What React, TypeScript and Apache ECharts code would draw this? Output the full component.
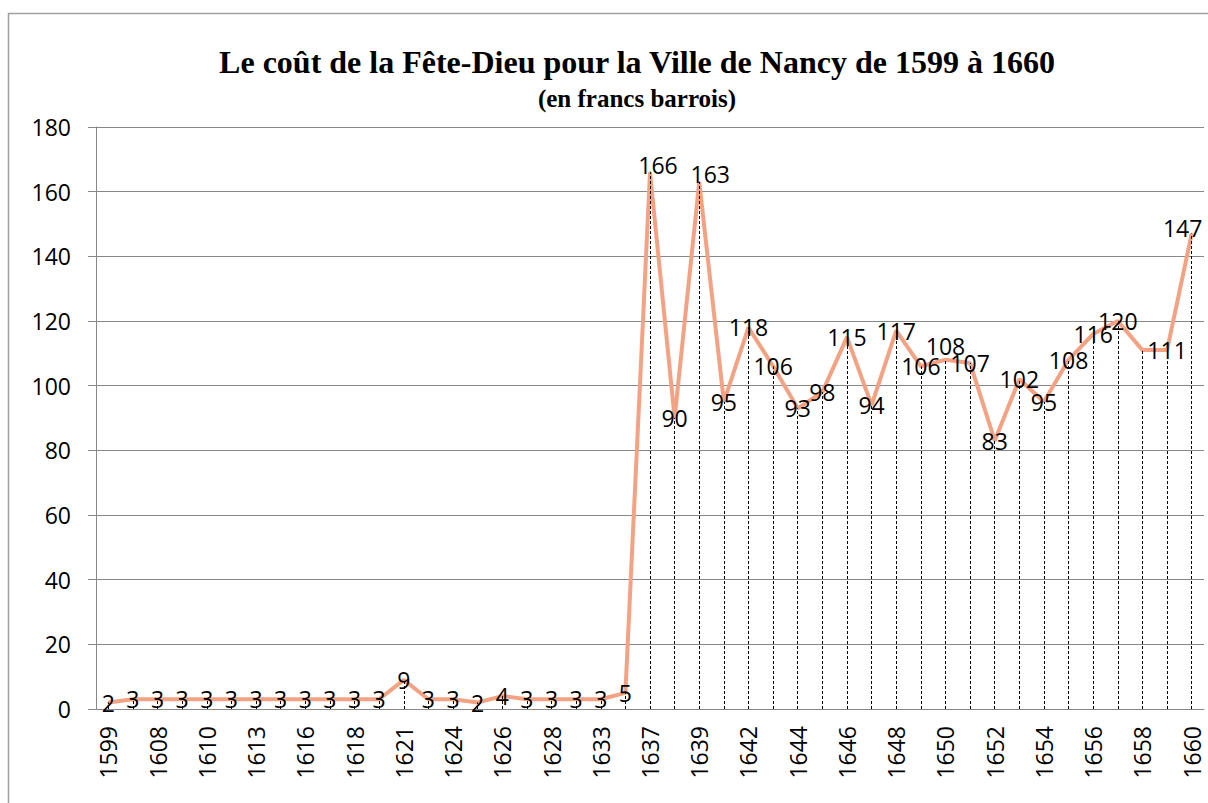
import React, { useEffect, useRef } from "react";
import * as echarts from "echarts";

const years: string[] = [
  "1599", "1607", "1608", "1609", "1610", "1612", "1613", "1615", "1616", "1617",
  "1618", "1620", "1621", "1622", "1624", "1625", "1626", "1627", "1628", "1631",
  "1633", "1635", "1637", "1638", "1639", "1641", "1642", "1643", "1644", "1645",
  "1646", "1647", "1648", "1649", "1650", "1651", "1652", "1653", "1654", "1655",
  "1656", "1657", "1658", "1659", "1660",
];

const costs: number[] = [
  2, 3, 3, 3, 3, 3, 3, 3, 3, 3,
  3, 3, 9, 3, 3, 2, 4, 3, 3, 3,
  3, 5, 166, 90, 163, 95, 118, 106, 93, 98,
  115, 94, 117, 106, 108, 107, 83, 102, 95, 108,
  116, 120, 111, 111, 147,
];

// index of the point whose label is not shown in the reference
const hiddenLabels: number[] = [42];

// data labels that the reference moved off their point: [index, dx, dy]
const movedLabels: [number, number, number][] = [
  [22, 8, -7],
  [24, 11, -8],
  [34, 0, -14],
  [44, -9, -6],
];

const yTicks = { min: 0, max: 180, interval: 20 };

const titleText = "Le coût de la Fête-Dieu pour la Ville de Nancy de 1599 à 1660";
const subtitleText = "(en francs barrois)";

export default function App() {
  const ref = useRef<HTMLDivElement>(null);

  useEffect(() => {
    if (!ref.current) return;
    const chart = echarts.init(ref.current, undefined, { renderer: "svg" });
    const lineColor = "#F3A384";
    const labelFont = "Open Sans";

    const seriesData = costs.map((v, i) => {
      if (hiddenLabels.includes(i)) return { value: v, label: { show: false } };
      const m = movedLabels.find((e) => e[0] === i);
      if (m) return { value: v, label: { offset: [m[1], m[2]] } };
      return v;
    });

    const dropLines = costs.map((v, i) => [
      { coord: [i, 0] },
      { coord: [i, v] },
    ]);

    chart.setOption({
      animation: false,
      backgroundColor: "#ffffff",
      graphic: [
        {
          type: "rect",
          shape: { x: 8.5, y: 13.5, width: 1400, height: 1000 },
          style: { fill: "none", stroke: "#a0a0a0", lineWidth: 1.5 },
          silent: true,
          z: 0,
        },
        {
          type: "text",
          x: 637,
          y: 62,
          style: {
            text: titleText,
            font: "bold 32px 'Liberation Serif'",
            fill: "#000",
            textAlign: "center",
            textVerticalAlign: "middle",
          },
        },
        {
          type: "text",
          x: 637,
          y: 98,
          style: {
            text: subtitleText,
            font: "bold 25px 'Liberation Serif'",
            fill: "#000",
            textAlign: "center",
            textVerticalAlign: "middle",
          },
        },
      ],
      grid: { left: 96, right: 4, top: 127, bottom: 94, containLabel: false },
      xAxis: {
        type: "category",
        data: years,
        boundaryGap: true,
        axisLine: { show: true, lineStyle: { color: "#888888", width: 1 } },
        axisTick: { show: false },
        axisLabel: {
          interval: 1,
          rotate: 90,
          margin: 17,
          fontFamily: labelFont,
          fontSize: 23,
          color: "#000",
        },
        splitLine: { show: false },
      },
      yAxis: {
        type: "value",
        min: yTicks.min,
        max: yTicks.max,
        interval: yTicks.interval,
        axisLine: { show: true, lineStyle: { color: "#888888", width: 1 } },
        axisTick: { show: true, length: 8, lineStyle: { color: "#888888" } },
        axisLabel: {
          margin: 25,
          fontFamily: labelFont,
          fontSize: 23,
          color: "#000",
        },
        splitLine: { show: true, lineStyle: { color: "#888888", width: 1 } },
      },
      series: [
        {
          type: "line",
          data: seriesData,
          symbol: "circle",
          symbolSize: 2,
          showSymbol: true,
          lineStyle: { color: lineColor, width: 4 },
          itemStyle: { color: lineColor },
          label: {
            show: true,
            position: "inside",
            fontFamily: labelFont,
            fontSize: 23,
            color: "#000",
          },
          markLine: {
            silent: true,
            symbol: "none",
            label: { show: false },
            lineStyle: { color: "#000", type: [3, 2], width: 1 },
            data: dropLines,
          },
        },
      ],
    });

    return () => chart.dispose();
  }, []);

  return (
    <div
      ref={ref}
      style={{ position: "absolute", left: 0, top: 0, width: 1208, height: 803 }}
    />
  );
}
